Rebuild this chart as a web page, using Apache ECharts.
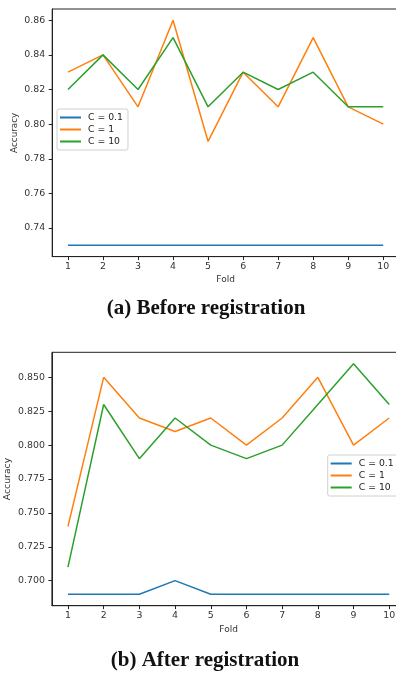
<!DOCTYPE html>
<html>
<head>
<meta charset="utf-8">
<script src="https://cdn.jsdelivr.net/npm/echarts@6/dist/echarts.min.js"></script>
<style>
html,body{margin:0;padding:0;background:#fff;}
#chart{width:396px;height:675px;}
</style>
</head>
<body>
<div id="chart"></div>
<script>
// Folds
const folds = [1, 2, 3, 4, 5, 6, 7, 8, 9, 10];
const seriesNames = ['C = 0.1', 'C = 1', 'C = 10'];
// (a) Before registration
const beforeC01 = [0.73, 0.73, 0.73, 0.73, 0.73, 0.73, 0.73, 0.73, 0.73, 0.73];
const beforeC1  = [0.83, 0.84, 0.81, 0.86, 0.79, 0.83, 0.81, 0.85, 0.81, 0.80];
const beforeC10 = [0.82, 0.84, 0.82, 0.85, 0.81, 0.83, 0.82, 0.83, 0.81, 0.81];
// (b) After registration
const afterC01 = [0.69, 0.69, 0.69, 0.70, 0.69, 0.69, 0.69, 0.69, 0.69, 0.69];
const afterC1  = [0.74, 0.85, 0.82, 0.81, 0.82, 0.80, 0.82, 0.85, 0.80, 0.82];
const afterC10 = [0.71, 0.83, 0.79, 0.82, 0.80, 0.79, 0.80, 0.83, 0.86, 0.83];
// Tick labels
const beforeYTicks = [0.74, 0.76, 0.78, 0.80, 0.82, 0.84, 0.86];
const afterYTicks = [0.700, 0.725, 0.750, 0.775, 0.800, 0.825, 0.850];
const captions = ['(a) Before registration', '(b) After registration'];

const colors = ['#1f77b4', '#ff7f0e', '#2ca02c'];
const tickFont = 'DejaVu Sans';
const axisColor = '#222';

function pairs(vals) { return folds.map((f, i) => [f, vals[i]]); }

function xAxisCfg(gridIndex) {
  return {
    type: 'value', gridIndex: gridIndex, min: 0.55, max: 10.45,
    name: 'Fold', nameLocation: 'middle', nameGap: 19, nameMoveOverlap: false,
    nameTextStyle: { fontFamily: tickFont, fontSize: 9, color: '#333' },
    axisLine: { show: true, lineStyle: { color: axisColor, width: 1 } },
    axisTick: { show: true, length: 3.5, customValues: folds, lineStyle: { color: axisColor } },
    axisLabel: { customValues: folds, margin: 5, fontFamily: tickFont, fontSize: 9.4, color: '#333' },
    splitLine: { show: false }
  };
}
function yAxisCfg(gridIndex, min, max, ticks, dec, gap) {
  return {
    type: 'value', gridIndex: gridIndex, min: min, max: max,
    name: 'Accuracy', nameLocation: 'middle', nameGap: gap, nameRotate: 90, nameMoveOverlap: false,
    nameTextStyle: { fontFamily: tickFont, fontSize: gridIndex === 0 ? 8.8 : 9.3, color: '#333' },
    axisLine: { show: true, lineStyle: { color: axisColor, width: 1 } },
    axisTick: { show: true, length: 3.5, customValues: ticks, lineStyle: { color: axisColor } },
    axisLabel: { customValues: ticks, margin: 7, fontFamily: tickFont, fontSize: 9.4, color: '#333',
      formatter: v => v.toFixed(dec) },
    splitLine: { show: false }
  };
}
function lineSeries(name, data, idx, color) {
  return { type: 'line', name: name, xAxisIndex: idx, yAxisIndex: idx, data: pairs(data),
    symbol: 'none', lineStyle: { color: color, width: 1.5 }, itemStyle: { color: color }, animation: false };
}
function legendCfg(left, top) {
  return {
    orient: 'vertical', left: left, top: top, data: seriesNames,
    icon: 'rect', itemWidth: 21, itemHeight: 2, itemGap: 3,
    padding: [4, 5, 4, 3], borderColor: '#d0d0d0', borderWidth: 1, borderRadius: 2,
    backgroundColor: 'rgba(255,255,255,0.8)',
    textStyle: { fontFamily: tickFont, fontSize: 9.3, color: '#222', padding: [0, 0, 0, 2] },
    selectedMode: false
  };
}

const chart = echarts.init(document.getElementById('chart'), null, { renderer: 'canvas' });
chart.setOption({
  animation: false,
  backgroundColor: '#fff',
  grid: [
    { left: 52.2, top: 9, width: 346.8, height: 247.6, show: true, borderColor: axisColor, borderWidth: 1,
      containLabel: false, outerBoundsMode: 'none' },
    { left: 51.9, top: 352.3, width: 353.4, height: 253.4, show: true, borderColor: axisColor, borderWidth: 1,
      containLabel: false, outerBoundsMode: 'none' }
  ],
  xAxis: [xAxisCfg(0), xAxisCfg(1)],
  yAxis: [
    yAxisCfg(0, 0.7235, 0.8665, beforeYTicks, 2, 33),
    yAxisCfg(1, 0.6815, 0.8685, afterYTicks, 3, 40)
  ],
  legend: [legendCfg(57, 109), legendCfg(327.7, 455)],
  series: [
    lineSeries(seriesNames[0], beforeC01, 0, colors[0]),
    lineSeries(seriesNames[1], beforeC1, 0, colors[1]),
    lineSeries(seriesNames[2], beforeC10, 0, colors[2]),
    lineSeries(seriesNames[0], afterC01, 1, colors[0]),
    lineSeries(seriesNames[1], afterC1, 1, colors[1]),
    lineSeries(seriesNames[2], afterC10, 1, colors[2])
  ],
  graphic: [
    { type: 'text', x: 206, y: 309, style: { text: captions[0], textAlign: 'center', textVerticalAlign: 'middle', font: 'bold 21px "Liberation Serif", serif', fill: '#111' } },
    { type: 'text', x: 205, y: 661, style: { text: captions[1], textAlign: 'center', textVerticalAlign: 'middle', font: 'bold 21px "Liberation Serif", serif', fill: '#111' } }
  ]
});
</script>
</body>
</html>
